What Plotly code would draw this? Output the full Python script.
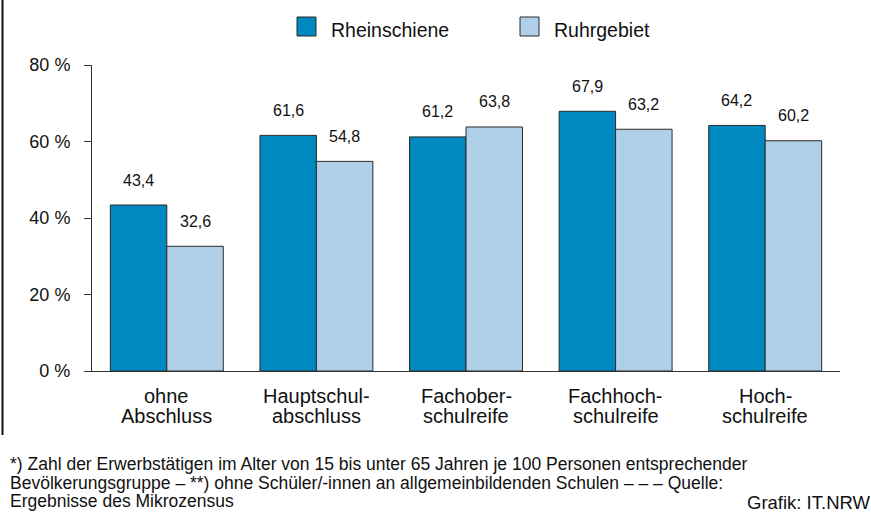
import plotly.graph_objects as go

categories = ["ohne<br>Abschluss", "Hauptschul-<br>abschluss", "Fachober-<br>schulreife",
              "Fachhoch-<br>schulreife", "Hoch-<br>schulreife"]
rheinschiene = [43.4, 61.6, 61.2, 67.9, 64.2]
ruhrgebiet = [32.6, 54.8, 63.8, 63.2, 60.2]
y_ticks = [0, 20, 40, 60, 80]

footnote_lines = [
    "*) Zahl der Erwerbstätigen im Alter von 15 bis unter 65 Jahren je 100 Personen entsprechender",
    "Bevölkerungsgruppe – **) ohne Schüler/-innen an allgemeinbildenden Schulen – – – Quelle:",
    "Ergebnisse des Mikrozensus",
]
credit = "Grafik: IT.NRW"

FONT = "Liberation Sans, Arial, sans-serif"
TXT = "#111111"
C_RHEIN = "#0088c0"
C_RUHR = "#afd0e8"

W, H = 871, 512
L, R, T, B = 92, 31, 65, 141
PW, PH = W - L - R, H - T - B


def px(x):
    return (x - L) / PW


def py(y):
    return (H - B - y) / PH


fig = go.Figure()
fig.add_trace(go.Bar(
    x=categories, y=rheinschiene, name="Rheinschiene", showlegend=False,
    marker=dict(color=C_RHEIN, line=dict(color="#2a2a2a", width=1)),
))
fig.add_trace(go.Bar(
    x=categories, y=ruhrgebiet, name="Ruhrgebiet", showlegend=False,
    marker=dict(color=C_RUHR, line=dict(color="#2a2a2a", width=1)),
))

# Werte über den Säulen
for i in range(len(categories)):
    for val, off in ((rheinschiene[i], -0.189), (ruhrgebiet[i], 0.189)):
        fig.add_annotation(
            x=i + off, y=val, xref="x", yref="y", text=f"{val:.1f}".replace(".", ","),
            showarrow=False, yshift=25, xanchor="center", yanchor="middle",
            font=dict(size=16, color=TXT, family=FONT),
        )

# Kategorienbeschriftung (zweizeilig, enger Zeilenabstand)
for i, cat in enumerate(categories):
    for j, part in enumerate(cat.split("<br>")):
        fig.add_annotation(
            x=i, y=py(396 + 20 * j), xref="x", yref="paper", text=part,
            showarrow=False, xanchor="center", yanchor="middle",
            font=dict(size=20, color=TXT, family=FONT),
        )

# Legende
for x0, name, col in ((297, "Rheinschiene", C_RHEIN), (520, "Ruhrgebiet", C_RUHR)):
    fig.add_shape(type="rect", xref="paper", yref="paper",
                  x0=px(x0), x1=px(x0 + 19), y0=py(17), y1=py(36),
                  fillcolor=col, line=dict(color="#2a2a2a", width=1))
    fig.add_annotation(x=px(x0 + 32), y=py(30), xref="paper", yref="paper", text=name,
                       showarrow=False, xanchor="left", yanchor="middle",
                       font=dict(size=19.5, color=TXT, family=FONT))

# Fußnote
for j, line in enumerate(footnote_lines):
    fig.add_annotation(
        x=px(8), y=py(464 + 18.5 * j), xref="paper", yref="paper", text=line,
        showarrow=False, xanchor="left", yanchor="middle",
        font=dict(size=17.5, color=TXT, family=FONT),
    )
fig.add_annotation(
    x=px(873), y=py(502), xref="paper", yref="paper", text=credit,
    showarrow=False, xanchor="right", yanchor="middle",
    font=dict(size=18.5, color=TXT, family=FONT),
)

# Rahmenlinie links
fig.add_shape(type="line", xref="paper", yref="paper",
              x0=px(2.5), x1=px(2.5), y0=py(435), y1=py(0),
              line=dict(color="#111111", width=2))

fig.update_layout(
    width=W, height=H,
    margin=dict(l=L, r=R, t=T, b=B, autoexpand=False),
    paper_bgcolor="white", plot_bgcolor="white",
    font=dict(family=FONT, size=18, color=TXT),
    barmode="group", bargap=0.245, bargroupgap=0,
    xaxis=dict(showline=True, linecolor="#333333", linewidth=1, ticks="",
               showticklabels=False, showgrid=False),
    yaxis=dict(range=[0, 80], tickvals=y_ticks, ticktext=[f"{v} %" for v in y_ticks],
               showline=True, linecolor="#333333", linewidth=1, ticks="outside",
               ticklen=7, tickcolor="#333333", showgrid=False, zeroline=False,
               ticklabelstandoff=10, tickfont=dict(size=18)),
)

fig.write_html("out.html", config={"displayModeBar": False},
               post_script="document.body.style.margin='0';")
